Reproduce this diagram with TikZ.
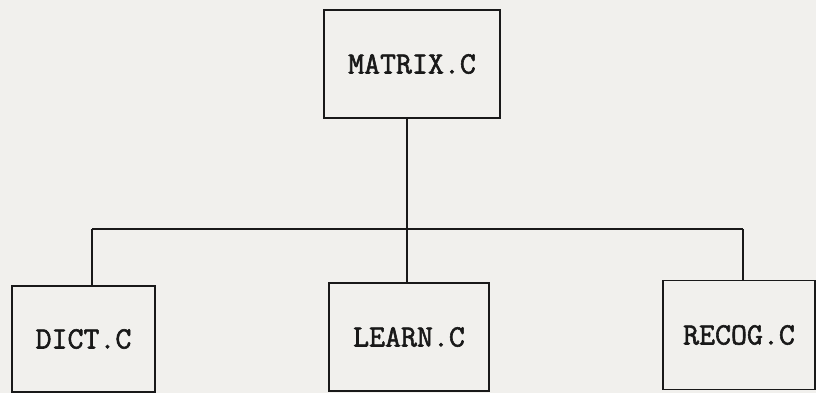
\documentclass[tikz,border=0pt]{standalone}
\usepackage{fontspec}
\newfontfamily\twfont[FakeBold=1.8]{Latin Modern Mono}
\definecolor{paper}{RGB}{241,240,237}
\definecolor{ink}{RGB}{25,25,25}
\tikzset{
  modbox/.style={draw=ink, line width=1.6pt, rectangle, inner sep=0pt,
    font=\twfont\fontsize{31}{34}\selectfont, text=ink},
  link/.style={draw=ink, line width=1.6pt}
}
\begin{document}
\begin{tikzpicture}[x=1pt,y=-1pt]
\useasboundingbox[fill=paper] (0,0) rectangle (816,393);
\node[modbox, minimum width=176pt, minimum height=108pt] (matrix) at (412,64) {MATRIX.C};
\node[modbox, minimum width=143pt, minimum height=106pt] (dict) at (83.5,339) {DICT.C};
\node[modbox, minimum width=160pt, minimum height=108pt] (learn) at (409,337) {LEARN.C};
\node[modbox, minimum width=152pt, minimum height=109pt] (recog) at (739,335) {RECOG.C};
\coordinate (j) at (407,229);
\coordinate (bl) at (92,229);
\coordinate (br) at (743,229);
\draw[link] (matrix.south -| j) -- (j);
\draw[link] (bl) -- (br);
\draw[link] (bl) -- (dict.north -| bl);
\draw[link] (j) -- (learn.north -| j);
\draw[link] (br) -- (recog.north -| br);
\end{tikzpicture}
\end{document}
